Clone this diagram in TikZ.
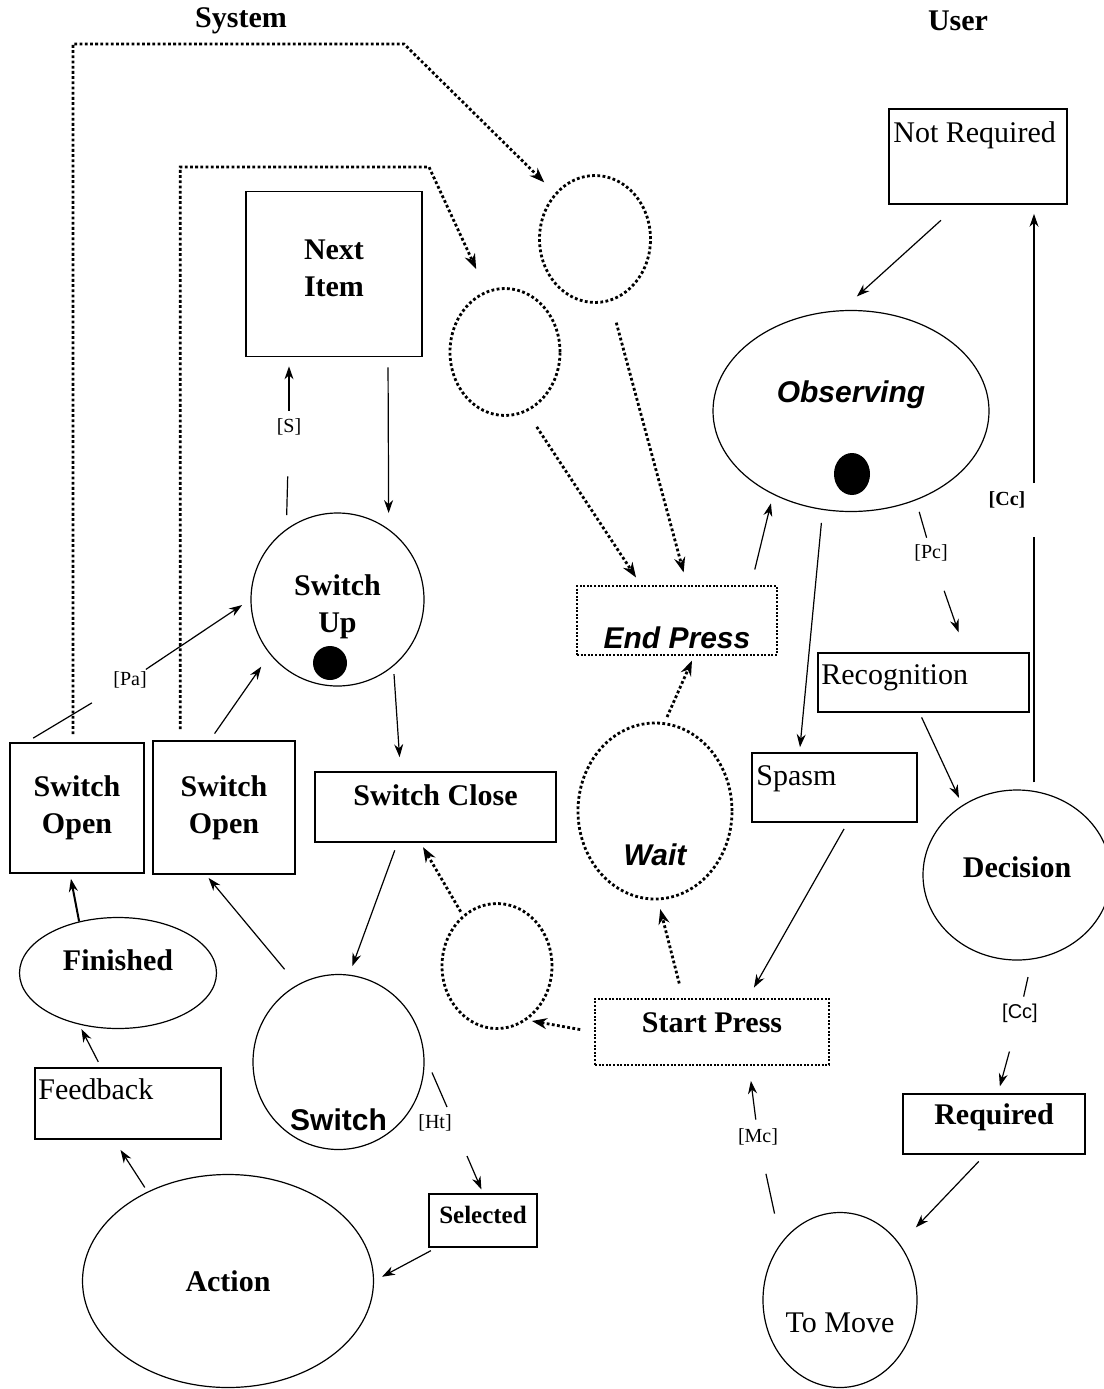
\documentclass[tikz,border=0pt]{standalone}
\usepackage{fontspec}
\setmainfont{Liberation Serif}
\setsansfont{Liberation Sans}
\usetikzlibrary{shapes.geometric,arrows.meta}

\newcommand{\bigtxt}{\fontsize{30}{37}\selectfont}
\newcommand{\smalltxt}{\fontsize{20}{22}\selectfont}

\tikzset{
  box/.style={draw, rectangle, line width=1.7pt, inner sep=0pt},
  dotbox/.style={draw, rectangle, line width=2pt, dash pattern=on 2pt off 1.6pt, inner sep=0pt},
  oval/.style={draw, ellipse, line width=1.2pt, inner sep=0pt},
  dotoval/.style={draw, ellipse, line width=2.8pt, dash pattern=on 2.8pt off 2.4pt, inner sep=0pt},
  token/.style={fill=black, ellipse, inner sep=0pt},
  arr/.style={-{Stealth[length=13pt,width=9pt]}, line width=1.2pt},
  dotarr/.style={-{Stealth[length=15pt,width=11pt]}, line width=2.8pt, dash pattern=on 2.8pt off 2.4pt},
  conn/.style={line width=1.2pt},
  lbl/.style={font=\smalltxt, inner sep=1pt},
  bold/.style={font=\bigtxt\bfseries, align=center},
  plain/.style={font=\bigtxt},
  sansb/.style={font=\bigtxt\sffamily\bfseries},
  sansbi/.style={font=\bigtxt\sffamily\bfseries\itshape},
}

\begin{document}
\begin{tikzpicture}[x=1pt, y=-1pt]

\fill[white] (0,0) rectangle (1103,1389);
\useasboundingbox (0,0) rectangle (1103,1389);

\node[bold] (sysT) at (241,21) {System};
\node[bold] (usrT) at (958,21) {User};

% system side
\node[box, minimum width=176pt, minimum height=165pt] (nxt) at (334,274) {};
\node[bold] (nxtT) at ([yshift=6pt]nxt.center) {Next\\Item};
\node[oval, circle, minimum size=173pt] (swup) at (337.5,599.5) {};
\node[bold] (swupT) at ([yshift=-7pt]swup.center) {Switch\\Up};
\node[token, minimum width=34pt, minimum height=34pt] (swdot) at (330,663) {};
\node[box, minimum width=241pt, minimum height=70pt] (swcl) at (435.5,807) {};
\node[bold] (swclT) at ([yshift=12pt]swcl.center) {Switch Close};
\node[box, minimum width=134pt, minimum height=130pt, bold] (swo1) at (77,808) {Switch\\Open};
\node[box, minimum width=142pt, minimum height=133pt, bold] (swo2) at (224,807.5) {Switch\\Open};
\node[oval, minimum width=197pt, minimum height=111pt] (fin) at (118,973) {};
\node[bold] (finT) at ([yshift=13pt]fin.center) {Finished};
\node[box, minimum width=186pt, minimum height=71pt] (fb) at (128,1103.5) {};
\node[plain, anchor=base west, inner sep=0pt] (fbT) at ([xshift=4pt,yshift=-32pt]fb.north west) {Feedback};
\node[oval, minimum width=291pt, minimum height=213pt, bold] (act) at (228,1281) {Action};
\node[oval, minimum width=171pt, minimum height=175pt] (sw) at (338.5,1062) {};
\node[sansb] (swT) at ([yshift=-58pt]sw.center) {Switch};
\node[box, minimum width=108pt, minimum height=53pt] (sel) at (483,1220.5) {};
\node[font=\fontsize{25}{30}\selectfont\bfseries] (selT) at ([yshift=6pt]sel.center) {Selected};
\node[dotoval, minimum width=110pt, minimum height=125pt] (cC) at (497,966) {};
\node[dotoval, minimum width=111pt, minimum height=127pt] (cA) at (595,239) {};
\node[dotoval, minimum width=110pt, minimum height=127pt] (cB) at (505,352) {};

% middle
\node[dotbox, minimum width=234pt, minimum height=66pt] (stp) at (712,1032) {};
\node[bold] (stpT) at ([yshift=9pt]stp.center) {Start Press};
\node[dotoval, minimum width=154pt, minimum height=176pt] (wt) at (655,811) {};
\node[sansbi] (wtT) at ([yshift=-44pt]wt.center) {Wait};
\node[dotbox, minimum width=200pt, minimum height=69pt] (ep) at (677,620.5) {};
\node[sansbi] (epT) at ([yshift=-17pt]ep.center) {End Press};

% user side
\node[oval, minimum width=276pt, minimum height=201pt] (obs) at (851,411) {};
\node[sansbi] (obsT) at ([yshift=16pt]obs.center) {Observing};
\node[token, minimum width=36pt, minimum height=42pt] (obsdot) at (852,474) {};
\node[box, minimum width=178pt, minimum height=95pt] (nr) at (978,156.5) {};
\node[plain, anchor=base west, inner sep=0pt] (nrT) at ([xshift=5pt,yshift=-34pt]nr.north west) {Not Required};
\node[box, minimum width=211pt, minimum height=59pt] (rec) at (923.5,682.5) {};
\node[plain, anchor=base west, inner sep=0pt] (recT) at ([xshift=4pt,yshift=-32pt]rec.north west) {Recognition};
\node[box, minimum width=165pt, minimum height=69pt] (spm) at (834.5,787.5) {};
\node[plain, anchor=base west, inner sep=0pt] (spmT) at ([xshift=5pt,yshift=-33pt]spm.north west) {Spasm};
\node[oval, minimum width=188pt, minimum height=170pt] (dec) at (1017,875) {};
\node[bold] (decT) at ([yshift=8pt]dec.center) {Decision};
\node[box, minimum width=182pt, minimum height=60pt] (req) at (994,1124) {};
\node[bold] (reqT) at ([yshift=7pt]req.center) {Required};
\node[oval, minimum width=154pt, minimum height=175pt] (tm) at (840,1300) {};
\node[plain] (tmT) at ([yshift=-23pt]tm.center) {To Move};

% guard labels
\node[lbl] (lS) at (289,427) {[S]};
\node[lbl] (lPa) at (130,680) {[Pa]};
\node[lbl] (lPc) at (931,553) {[Pc]};
\node[lbl, font=\smalltxt\bfseries] (lCc1) at (1007,500) {[Cc]};
\node[lbl, font=\smalltxt\sffamily] (lCc2) at (1020,1013) {[Cc]};
\node[lbl] (lMc) at (758,1137) {[Mc]};
\node[lbl] (lHt) at (435,1123) {[Ht]};

\coordinate (otop) at (404,44);
\coordinate (itop) at (429,167);

% dotted links
\draw[dotarr, shorten <=8pt, shorten >=15pt] ([xshift=-4pt]swo1.north) |- (otop) -- (cA.131);
\draw[dotarr, shorten <=11pt, shorten >=24pt] ([xshift=28pt]swo2.north west) |- (itop) -- (cB.107);
\draw[dotarr, shorten <=18pt, shorten >=9pt] (cB.-70) -- ([xshift=-36pt]ep.north);
\draw[dotarr, shorten <=22pt, shorten >=13pt] (cA.-76) -- ([xshift=10pt]ep.north);
\draw[dotarr, shorten <=5pt, shorten >=5pt] ([xshift=10pt]wt.north) -- ([xshift=17pt]ep.south);
\draw[dotarr, shorten <=15pt, shorten >=9pt] ([xshift=-29pt]stp.north) -- ([xshift=3pt]wt.south);
\draw[dotarr, shorten <=14pt, shorten >=5pt] (stp.west) -- (cC.-61);
\draw[dotarr, shorten <=4pt, shorten >=5pt] (cC.124) -- ([xshift=-15pt]swcl.south);

% user links
\draw[arr, shorten <=16pt, shorten >=9pt] ([xshift=74pt]ep.north) -- (obs.227);
\draw[arr, shorten <=23pt, shorten >=20pt] ([xshift=-20pt]nr.south) -- ([xshift=-9pt]obs.north);
\draw[arr, shorten <=13pt, shorten >=5pt] (obs.-106) -- ([xshift=-35pt]spm.north);
\draw[conn, shorten <=12pt, shorten >=6pt] (obs.-54) -- (lPc);
\draw[arr, shorten <=30pt, shorten >=21pt] (lPc) -- ([xshift=42pt]rec.north);
\draw[arr, shorten <=5pt, shorten >=8pt] ([xshift=-4pt]rec.south) -- (dec.128);
\draw[conn] ([xshift=17pt,yshift=7pt]dec.north) -- ([xshift=27pt,yshift=-37pt]lCc1.center);
\draw[arr, shorten >=9pt] ([xshift=27pt,yshift=17pt]lCc1.center) -- ([xshift=56pt]nr.south);
\draw[conn, shorten <=18pt, shorten >=6pt] (dec.-80) -- (lCc2);
\draw[arr, shorten <=29pt, shorten >=7pt] (lCc2) -- ([xshift=4pt]req.north);
\draw[arr, shorten <=9pt, shorten >=23pt] ([xshift=-9pt]req.south) -- (tm.43);
\draw[conn, shorten <=30pt, shorten >=28pt] (tm.136) -- (lMc);
\draw[arr, shorten <=8pt, shorten >=15pt] (lMc) -- ([xshift=37pt]stp.south);
\draw[arr, shorten <=7pt, shorten >=12pt] ([xshift=13pt]spm.south) -- ([xshift=36pt]stp.north);

% system links
\draw[arr, shorten <=10pt, shorten >=16pt] ([xshift=54pt]nxt.south) -- (swup.54);
\draw[conn, shorten <=14pt, shorten >=40pt] (swup.126) -- (lS);
\draw[arr, shorten <=7pt, shorten >=9pt] (lS) -- (nxt.south -| lS);
\draw[conn, shorten >=26pt] ([xshift=24pt,yshift=4pt]swo1.north west) -- (lPa);
\draw[arr, shorten <=2pt, shorten >=10pt] (lPa) -- (swup.west);
\draw[arr, shorten <=8pt, shorten >=15pt] ([xshift=-14pt]swo2.north) -- (swup.219);
\draw[arr, shorten <=8pt, shorten >=14pt] (swup.-50) -- ([xshift=-35pt]swcl.north);
\draw[arr, shorten <=8pt, shorten >=9pt] ([xshift=-38pt]swcl.south) -- (sw.83);
\draw[arr, shorten <=20pt, shorten >=4pt] (sw.118) -- ([xshift=-18pt]swo2.south);
\draw[arr, line width=2pt, shorten >=5pt] (fin.127) -- ([xshift=-7pt]swo1.south);
\draw[arr, shorten <=6pt, shorten >=5pt] ([xshift=-27pt]fb.north) -- (fin.233);
\draw[arr, shorten <=5pt, shorten >=12pt] (act.132) -- ([xshift=-14pt]fb.south);
\draw[arr, shorten <=6pt, shorten >=9pt] ([xshift=8pt]sel.south west) -- (act.east);
\draw[conn] ([xshift=8pt]sw.-7) -- ([xshift=12pt,yshift=16pt]lHt.center);
\draw[arr, shorten >=4pt] ([xshift=32pt,yshift=-33pt]lHt.center) -- (sel.north);

\end{tikzpicture}
\end{document}
